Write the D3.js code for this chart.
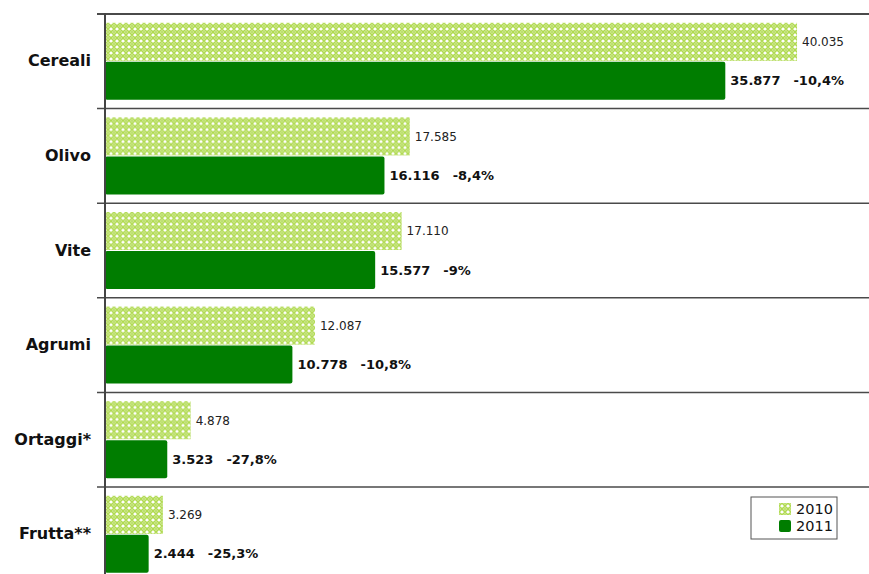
<!DOCTYPE html>
<html>
<head>
<meta charset="utf-8">
<script src="https://cdn.jsdelivr.net/npm/d3@7/dist/d3.min.js"></script>
<style>
  html, body { margin: 0; padding: 0; background: #ffffff; }
  svg { display: block; font-family: "DejaVu Sans", Verdana, sans-serif; }
</style>
</head>
<body>
<svg id="chart" width="869" height="574"></svg>
<script>
// Superficie per coltura (migliaia di ettari), 2010 vs 2011
const categories = ["Cereali", "Olivo", "Vite", "Agrumi", "Ortaggi*", "Frutta**"];
const seriesNames = ["2010", "2011"];
const values2010 = [40035, 17585, 17110, 12087, 4878, 3269];
const values2011 = [35877, 16116, 15577, 10778, 3523, 2444];
const changeLabels = ["-10,4%", "-8,4%", "-9%", "-10,8%", "-27,8%", "-25,3%"];

const W = 869, H = 574;
const margin = { top: 14, left: 105, right: 0 };
const bandStep = 94.6;

const svg = d3.select("#chart");
const defs = svg.append("defs");

// light green lattice used for the 2010 bars
const P = 6;
const pat = defs.append("pattern")
  .attr("id", "lattice")
  .attr("patternUnits", "userSpaceOnUse")
  .attr("width", P).attr("height", P);
pat.append("rect").attr("width", P).attr("height", P).attr("fill", "#ffffff");
pat.append("path")
  .attr("d", `M0,${P / 2} L${P / 2},0 L${P},${P / 2} L${P / 2},${P} Z`)
  .attr("fill", "none").attr("stroke", "#b0da50").attr("stroke-width", 1.7);
[[0, 0], [P, 0], [0, P], [P, P]].forEach(([cx, cy]) =>
  pat.append("circle").attr("cx", cx).attr("cy", cy).attr("r", 1.1).attr("fill", "#b0da50"));

const fmt = d3.formatLocale({ decimal: ",", thousands: ".", grouping: [3], currency: ["€", ""] }).format(",d");

// value scale; zero sits just right of the axis line
const x = d3.scaleLinear().domain([0, 44208]).range([margin.left + 1.5, W - margin.right]);
const y = d3.scaleBand().domain(categories)
  .range([margin.top, margin.top + bandStep * categories.length]).padding(0);
const ySub = d3.scaleBand().domain(seriesNames)
  .range([0, y.bandwidth()]).paddingInner(0.0256).paddingOuter(0.2256);

const rows = categories.map((c, i) => ({
  cat: c, v2010: values2010[i], v2011: values2011[i], change: changeLabels[i]
}));

// band separators
svg.append("g").selectAll("line")
  .data(categories)
  .join("line")
  .attr("x1", margin.left - 8).attr("x2", W)
  .attr("y1", d => y(d)).attr("y2", d => y(d))
  .attr("stroke", "#4a4a4a").attr("stroke-width", (d, i) => i === 0 ? 2 : 1.5);

const g = svg.append("g").selectAll("g")
  .data(rows)
  .join("g")
  .attr("transform", d => `translate(0,${y(d.cat)})`);

// 2010 bars (start under the axis line so they touch it)
g.append("rect")
  .attr("x", margin.left)
  .attr("y", ySub("2010"))
  .attr("width", d => x(d.v2010) - margin.left)
  .attr("height", ySub.bandwidth())
  .attr("fill", "url(#lattice)");

// 2011 bars
g.append("rect")
  .attr("x", margin.left)
  .attr("y", ySub("2011"))
  .attr("width", d => x(d.v2011) - margin.left)
  .attr("height", ySub.bandwidth())
  .attr("rx", 2).attr("ry", 2)
  .attr("fill", "#007d00");

// 2010 value labels
g.append("text")
  .attr("x", d => x(d.v2010) + 5)
  .attr("y", ySub("2010") + ySub.bandwidth() / 2)
  .attr("dy", "0.36em")
  .attr("font-size", 12)
  .attr("fill", "#222")
  .text(d => fmt(d.v2010));

// 2011 value labels followed by the yearly change
const lab = g.append("text")
  .attr("x", d => x(d.v2011) + 5)
  .attr("y", ySub("2011") + ySub.bandwidth() / 2)
  .attr("dy", "0.36em")
  .attr("font-size", 13)
  .attr("font-weight", "bold")
  .attr("fill", "#111");
lab.append("tspan").text(d => fmt(d.v2011));
lab.append("tspan").attr("dx", 13).text(d => d.change);

// category axis
const yAxis = d3.axisLeft(y).tickSize(0).tickPadding(14);
const ax = svg.append("g")
  .attr("transform", `translate(${margin.left},0)`)
  .call(yAxis);
ax.select(".domain").remove();
ax.selectAll("text")
  .attr("font-size", 16)
  .attr("font-weight", "bold")
  .attr("fill", "#111")
  .attr("font-family", "'DejaVu Sans', Verdana, sans-serif");

svg.append("line")
  .attr("x1", margin.left).attr("x2", margin.left)
  .attr("y1", margin.top - 1).attr("y2", H)
  .attr("stroke", "#444").attr("stroke-width", 2);

// legend
const lg = svg.append("g").attr("transform", "translate(751,497)");
lg.append("rect").attr("width", 86).attr("height", 42)
  .attr("fill", "#fff").attr("stroke", "#555").attr("stroke-width", 1);
const items = lg.selectAll("g.item").data(seriesNames).join("g")
  .attr("class", "item")
  .attr("transform", (d, i) => `translate(28,${6 + i * 17})`);
items.append("rect")
  .attr("width", 12).attr("height", 12)
  .attr("rx", (d, i) => i ? 2 : 0)
  .attr("fill", (d, i) => i ? "#007d00" : "url(#lattice)");
items.append("text")
  .attr("x", 17).attr("y", 6).attr("dy", "0.36em")
  .attr("font-size", 14.5).attr("fill", "#111")
  .text(d => d);
</script>
</body>
</html>
